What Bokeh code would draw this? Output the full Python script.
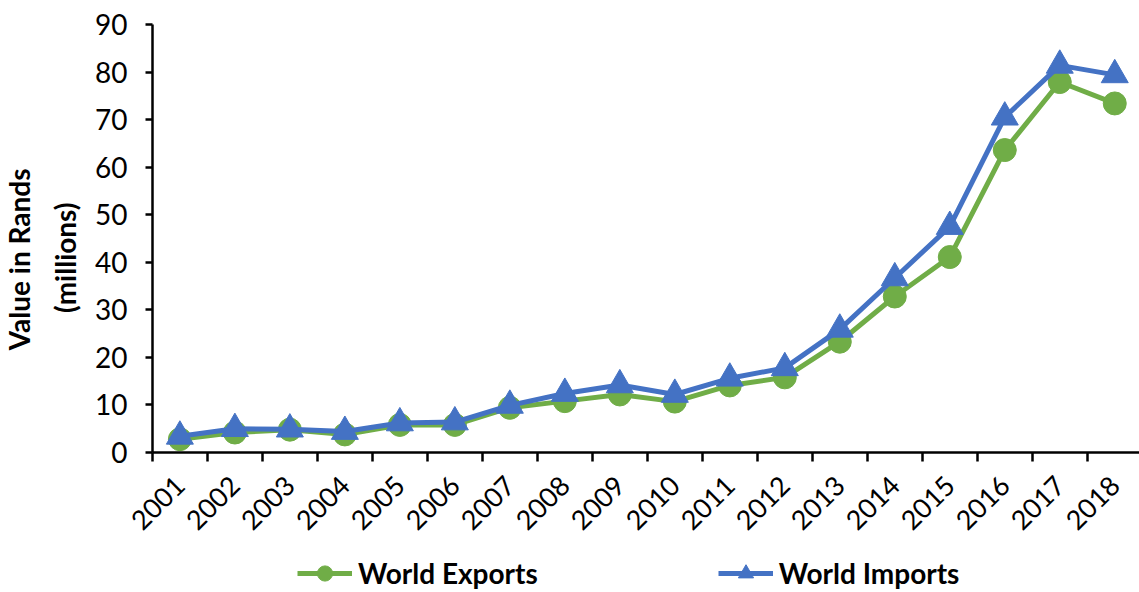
import math
from bokeh.plotting import figure
from bokeh.models import Range1d, FixedTicker, Legend, LegendItem, Title
from bokeh.embed import file_html
from bokeh.resources import INLINE

years = ["2001", "2002", "2003", "2004", "2005", "2006", "2007", "2008", "2009",
         "2010", "2011", "2012", "2013", "2014", "2015", "2016", "2017", "2018"]
world_exports = [2.8, 4.2, 4.8, 3.8, 5.8, 5.8, 9.4, 10.8, 12.2, 10.7, 14.1, 15.8,
                 23.3, 32.8, 41.1, 63.6, 77.9, 73.4]
world_imports = [3.4, 5.0, 4.9, 4.4, 6.2, 6.4, 9.9, 12.4, 14.2, 12.2, 15.6, 17.8,
                 25.9, 36.7, 47.5, 70.5, 81.4, 79.4]
y_ticks = [0, 10, 20, 30, 40, 50, 60, 70, 80, 90]

GREEN = "#70AD47"
BLUE = "#4472C4"
FONT = "Lato"

xs = [i + 0.5 for i in range(len(years))]
bounds = list(range(len(years) + 1))
y_max = y_ticks[-1]

# layout (pixels): frame covers the whole page right of the title panel; axes are fixed inside it
PANEL_LEFT = 91          # width of the title panel
AXIS_X = 150             # where the value axis sits
PLOT_RIGHT = 1139
X_END = 17.95
px_per_cat = (PLOT_RIGHT - AXIS_X) / X_END
x_start = -(AXIS_X - PANEL_LEFT) / px_per_cat
px_per_unit = 428 / y_max          # value 0..90 spans 428 px, top of axis at 24 px
y_top = y_max + 24 / px_per_unit
y_min = -(592 - 24 - 428) / px_per_unit

p = figure(width=1139, height=592, output_backend="svg", toolbar_location=None,
           x_range=Range1d(x_start, X_END), y_range=Range1d(y_min, y_top),
           min_border_left=PANEL_LEFT, min_border_top=0, min_border_right=0,
           min_border_bottom=0)
p.outline_line_color = None
p.xgrid.grid_line_color = None
p.ygrid.grid_line_color = None
p.background_fill_color = "white"
p.border_fill_color = "white"

l1 = p.line(xs, world_exports, line_color=GREEN, line_width=5)
s1 = p.scatter(xs, world_exports, marker="circle", size=23, fill_color=GREEN, line_color=GREEN)
l2 = p.line(xs, world_imports, line_color=BLUE, line_width=5)
s2 = p.scatter(xs, world_imports, marker="triangle", size=27, fill_color=BLUE, line_color=BLUE)

xa = p.xaxis[0]
xa.fixed_location = 0
xa.bounds = (0, len(years))
xa.ticker = FixedTicker(ticks=xs, minor_ticks=bounds)
xa.major_label_overrides = {x: y for x, y in zip(xs, years)}
xa.major_label_orientation = math.pi / 4
xa.major_tick_line_color = None
xa.major_tick_out = 9
xa.major_tick_in = 0
xa.minor_tick_out = 9
xa.minor_tick_in = 0
xa.minor_tick_line_color = "black"
xa.minor_tick_line_width = 2.5
xa.axis_line_color = "black"
xa.axis_line_width = 2.5
xa.major_label_text_font = FONT
xa.major_label_text_font_size = "27px"
xa.major_label_text_color = "black"
xa.major_label_standoff = 19

ya = p.yaxis[0]
ya.fixed_location = 0
ya.bounds = (0, y_max)
ya.ticker = FixedTicker(ticks=y_ticks)
ya.major_tick_out = 7
ya.major_tick_in = 0
ya.major_tick_line_width = 2.5
ya.major_tick_line_color = "black"
ya.minor_tick_line_color = None
ya.axis_line_color = "black"
ya.axis_line_width = 2.5
ya.major_label_text_font = FONT
ya.major_label_text_font_size = "28px"
ya.major_label_text_color = "black"
ya.major_label_standoff = 18

t2 = Title(text="(millions)", align="right", offset=202, vertical_align="middle",
           standoff=21, text_font=FONT, text_font_style="bold",
           text_font_size="28px", text_color="black")
t1 = Title(text="Value in Rands", align="right", offset=168, vertical_align="middle",
           standoff=0, text_font=FONT, text_font_style="bold",
           text_font_size="28px", text_color="black")
p.add_layout(t2, "left")
p.add_layout(t1, "left")

legend = Legend(items=[LegendItem(label="World Exports", renderers=[l1, s1]),
                       LegendItem(label="World Imports", renderers=[l2, s2])],
                orientation="horizontal", location=(295 - PANEL_LEFT, 0),
                glyph_width=55, glyph_height=38, label_standoff=6, spacing=180,
                label_text_font=FONT, label_text_font_style="bold",
                label_text_font_size="28px", label_text_color="black",
                border_line_color=None, background_fill_alpha=0,
                padding=0, margin=0)
p.add_layout(legend, "center")

open("out.html", "w").write(file_html(p, INLINE))
